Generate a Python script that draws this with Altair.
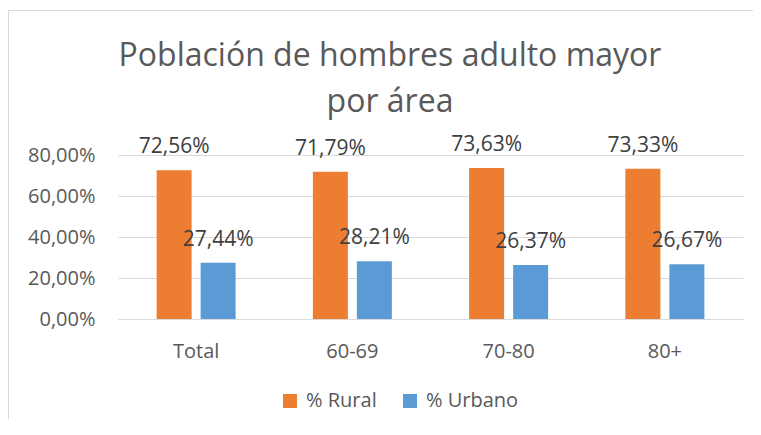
import altair as alt
import pandas as pd

categorias = ["Total", "60-69", "70-80", "80+"]
rural = [72.56, 71.79, 73.63, 73.33]
urbano = [27.44, 28.21, 26.37, 26.67]
series = ["% Rural", "% Urbano"]
colores = ["#ED7D31", "#5B9BD5"]
y_ticks = [0, 0.2, 0.4, 0.6, 0.8]
titulo = ["Población de hombres adulto mayor", "por área"]

rows = []
for i, c in enumerate(categorias):
    rows.append({"cat": c, "serie": series[0], "valor": rural[i] / 100})
    rows.append({"cat": c, "serie": series[1], "valor": urbano[i] / 100})
df = pd.DataFrame(rows)

FONT = "Open Sans"

x_enc = alt.X("cat:N", sort=categorias, title=None,
              scale=alt.Scale(paddingInner=0, paddingOuter=0),
              axis=alt.Axis(labelFontSize=20, labelFont=FONT, labelColor="#595959",
                            labelAngle=0, ticks=False, domainColor="#d9d9d9",
                            labelBaseline="alphabetic", labelPadding=38))
xoff_enc = alt.XOffset("serie:N", sort=series,
                       scale=alt.Scale(paddingInner=0.2045, paddingOuter=0.878))
y_enc = alt.Y("valor:Q", title=None,
              scale=alt.Scale(domain=[0, 0.8], nice=False),
              axis=alt.Axis(values=y_ticks, labelFontSize=20, labelFont=FONT,
                            labelColor="#595959", domain=False, ticks=False,
                            gridColor="#d9d9d9", labelPadding=23,
                            labelExpr="replace(format(datum.value, '.2%'), '.', ',')"))

base = alt.Chart(df)

bars = base.mark_bar().encode(
    x=x_enc, xOffset=xoff_enc, y=y_enc,
    color=alt.Color("serie:N", sort=series, title=None,
                    scale=alt.Scale(domain=series, range=colores),
                    legend=alt.Legend(orient="none", direction="horizontal",
                                      legendX=162, legendY=236,
                                      symbolType="square", symbolSize=196,
                                      symbolStrokeWidth=0, symbolOpacity=1,
                                      labelFontSize=20, labelFont=FONT,
                                      labelColor="#595959", labelOffset=6,
                                      columnPadding=23, padding=0)),
)

labels = base.transform_calculate(
    etiqueta="replace(format(datum.valor, '.2%'), '.', ',')"
).mark_text(baseline="alphabetic", dy=-17, fontSize=21, font=FONT, color="#404040").encode(
    x=x_enc, xOffset=xoff_enc, y=y_enc, text="etiqueta:N"
)

marco = pd.DataFrame({"k": [0]})
borde_sup = alt.Chart(marco).mark_rule(color="#d9d9d9", strokeWidth=1).encode(
    x=alt.value(-110), x2=alt.value(635), y=alt.value(-144.5))
borde_izq = alt.Chart(marco).mark_rule(color="#d9d9d9", strokeWidth=2).encode(
    x=alt.value(-110), y=alt.value(-144.5), y2=alt.value(300))

titulo_txt = alt.Chart(marco).mark_text(
    fontSize=32, font=FONT, color="#595959", align="center",
    baseline="alphabetic", lineHeight=46
).encode(x=alt.value(272), y=alt.value(-89), text=alt.value(titulo))

chart = alt.layer(borde_sup, borde_izq, titulo_txt, bars, labels).properties(
    width=625, height=164,
    padding={"left": 110, "top": 147, "right": 10, "bottom": 100},
    autosize=alt.AutoSizeParams(type="none"),
).configure_view(stroke=None)

chart.save("out.html", embed_options={"renderer": "svg", "actions": False})
